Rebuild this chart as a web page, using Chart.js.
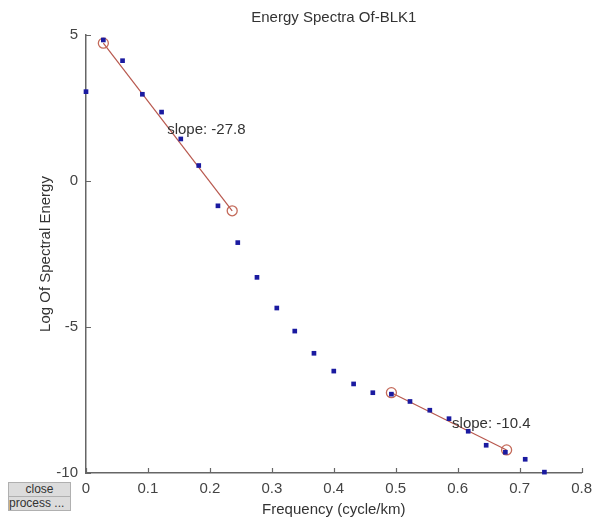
<!DOCTYPE html>
<html>
<head>
<meta charset="utf-8">
<script src="https://cdn.jsdelivr.net/npm/chart.js@4/dist/chart.umd.min.js"></script>
<style>
  html, body { margin: 0; padding: 0; background: #fff; }
  #wrap { position: relative; width: 599px; height: 526px; }
  canvas { position: absolute; left: 0; top: 0; }
  .btn { position: absolute; left: 8px; width: 61px; height: 13px; background: #dcdcdc;
         border: 1px solid #b0b0b0; font: 12px "Liberation Sans", Arial, sans-serif; color: #333;
         text-align: center; line-height: 13px; overflow: hidden; white-space: nowrap; }
</style>
</head>
<body>
<div id="wrap">
  <canvas id="c" width="599" height="526"></canvas>
  <div class="btn" style="top:482px">close</div>
  <div class="btn" style="top:496px;text-align:left;">process ...</div>
</div>
<script>
// ---- data ----
const frequency = [0.000, 0.028, 0.059, 0.091, 0.122, 0.153, 0.182, 0.213, 0.245, 0.276, 0.308, 0.337, 0.368,
                   0.400, 0.432, 0.463, 0.493, 0.523, 0.555, 0.586, 0.617, 0.646, 0.677, 0.709, 0.740];
const logEnergy = [3.06, 4.83, 4.12, 2.97, 2.36, 1.44, 0.53, -0.85, -2.11, -3.30, -4.35, -5.14, -5.90,
                   -6.51, -6.95, -7.25, -7.30, -7.55, -7.85, -8.14, -8.57, -9.05, -9.29, -9.53, -9.97];
const fit1X = [0.028, 0.236];
const fit1Y = [4.72, -1.02];
const fit2X = [0.493, 0.679];
const fit2Y = [-7.25, -9.21];
const slopeLabels = ["slope: -27.8", "slope: -10.4"];
const xTicks = [0, 0.1, 0.2, 0.3, 0.4, 0.5, 0.6, 0.7, 0.8];
const yTicks = [-10, -5, 0, 5];
const chartTitle = "Energy Spectra Of-BLK1";
const xTitle = "Frequency (cycle/km)";
const yTitle = "Log Of Spectral Energy";

// label anchor positions (data coords)
const slopeLabelPos = [[0.131, 1.75], [0.591, -8.31]];

const FONT = '"Liberation Sans", Arial, sans-serif';
const pts = (xs, ys) => xs.map((x, i) => ({x: x, y: ys[i]}));

const decor = {
  id: 'decor',
  afterDraw(chart) {
    const ctx = chart.ctx, xs = chart.scales.x, ys = chart.scales.y, a = chart.chartArea;
    ctx.save();
    // inward tick marks
    ctx.strokeStyle = '#666'; ctx.lineWidth = 1.2;
    ctx.beginPath();
    xs.ticks.forEach(t => { const px = Math.round(xs.getPixelForValue(t.value)) + 0.5;
      ctx.moveTo(px, a.bottom); ctx.lineTo(px, a.bottom - 5); });
    ys.ticks.forEach(t => { const py = Math.round(ys.getPixelForValue(t.value)) + 0.5;
      ctx.moveTo(a.left, py); ctx.lineTo(a.left + 5, py); });
    ctx.stroke();
    // title
    ctx.fillStyle = '#333';
    ctx.font = '15px ' + FONT;
    ctx.textAlign = 'center'; ctx.textBaseline = 'middle';
    ctx.fillText(chartTitle, (a.left + a.right) / 2, 18);
    // slope labels
    ctx.textAlign = 'left';
    ctx.font = '15px ' + FONT;
    slopeLabels.forEach((s, i) => {
      ctx.fillText(s, xs.getPixelForValue(slopeLabelPos[i][0]), ys.getPixelForValue(slopeLabelPos[i][1]));
    });
    ctx.restore();
  }
};

new Chart(document.getElementById('c'), {
  type: 'scatter',
  data: {
    datasets: [
      { data: pts(frequency, logEnergy), showLine: false, pointStyle: 'rect', pointRadius: 3.3,
        backgroundColor: '#1a1aa0', borderColor: '#1a1aa0', borderWidth: 0, order: 1 },
      { data: pts(fit1X, fit1Y), showLine: true, borderColor: '#b8584e', borderWidth: 1.2,
        pointStyle: 'circle', pointRadius: 5, pointBorderColor: '#c46a5a', pointBackgroundColor: 'rgba(0,0,0,0)',
        pointBorderWidth: 1.3, order: 2 },
      { data: pts(fit2X, fit2Y), showLine: true, borderColor: '#b8584e', borderWidth: 1.2,
        pointStyle: 'circle', pointRadius: 5, pointBorderColor: '#c46a5a', pointBackgroundColor: 'rgba(0,0,0,0)',
        pointBorderWidth: 1.3, order: 2 }
    ]
  },
  options: {
    responsive: false, animation: false, events: [],
    clip: false,
    layout: { padding: { left: 0, right: 13, top: 35, bottom: 0 } },
    plugins: { legend: { display: false }, tooltip: { enabled: false }, title: { display: false } },
    scales: {
      x: {
        type: 'linear', min: 0, max: 0.8,
        afterFit: s => { s.height = 53; },
        afterBuildTicks: s => { s.ticks = xTicks.map(v => ({value: v})); },
        grid: { display: true, drawOnChartArea: false, drawTicks: false },
        border: { display: true, color: '#666', width: 1.5 },
        ticks: { padding: 7, color: '#444', font: { family: FONT, size: 15 }, maxRotation: 0,
                 callback: v => String(Math.round(v * 10) / 10) },
        title: { display: true, text: xTitle, color: '#333', font: { family: FONT, size: 15 },
                 padding: { top: 0, bottom: 7 } }
      },
      y: {
        type: 'linear', min: -10, max: 5,
        afterFit: s => { s.width = 86; },
        afterBuildTicks: s => { s.ticks = yTicks.map(v => ({value: v})); },
        grid: { display: true, drawOnChartArea: false, drawTicks: false },
        border: { display: true, color: '#666', width: 1.5 },
        ticks: { padding: 8, color: '#444', font: { family: FONT, size: 15 } },
        title: { display: true, text: yTitle, color: '#333', font: { family: FONT, size: 15 },
                 padding: { top: 37, bottom: 0 } }
      }
    }
  },
  plugins: [decor]
});
</script>
</body>
</html>
